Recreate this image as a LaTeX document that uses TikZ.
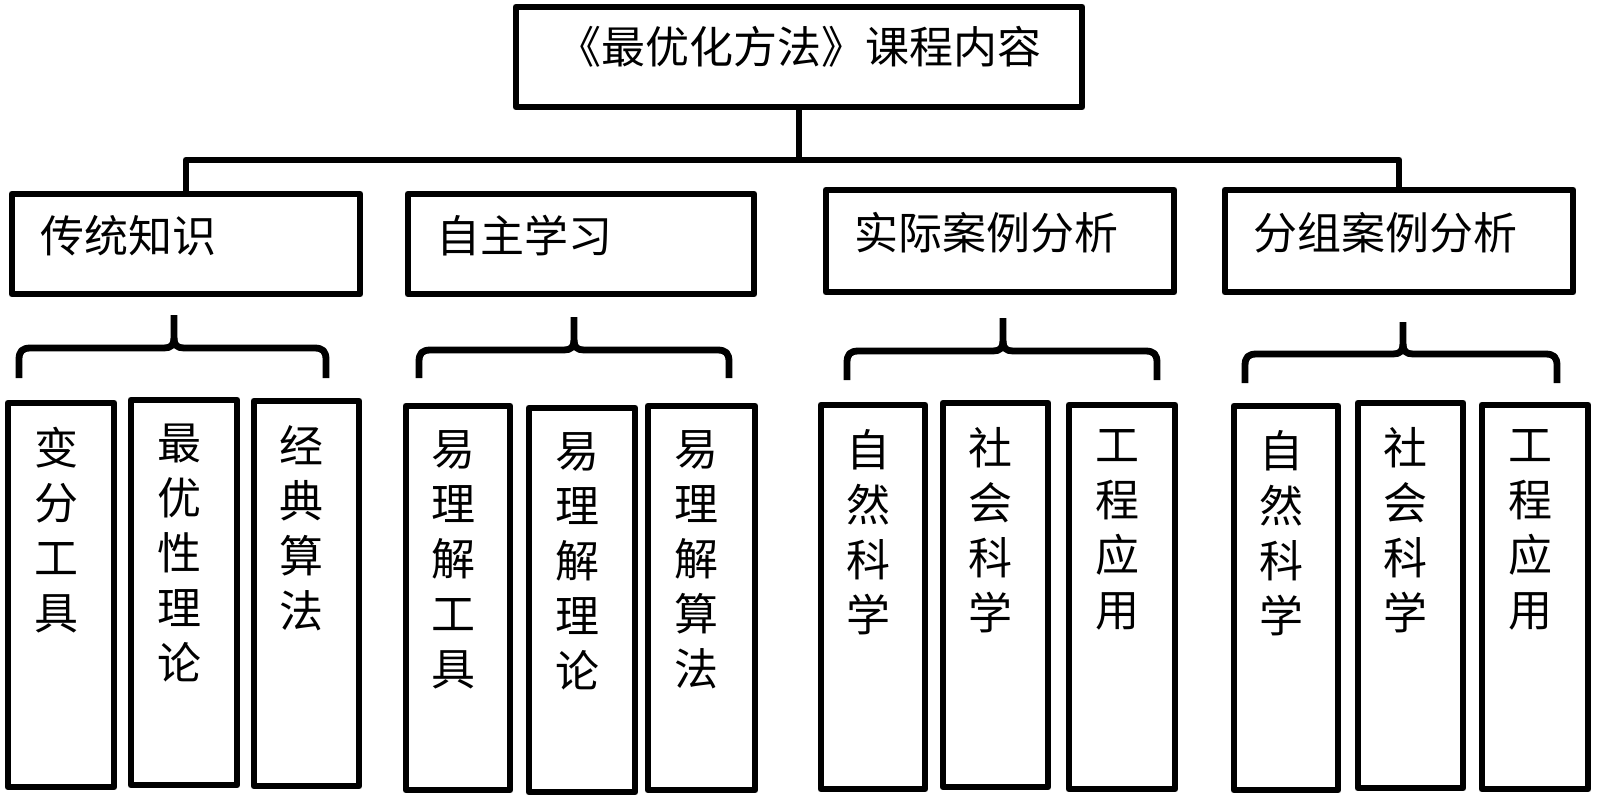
\documentclass[tikz,border=0pt]{standalone}
\usepackage{fontspec}
\newfontfamily\cjk{Noto Sans CJK SC}
\newcommand\mybrace[6]{%
  \draw[brc] (#1,#6) -- (#1,{#5+12}) .. controls (#1,{#5+3}) and ({#1+3},#5) .. ({#1+12},#5)
     -- ({#2-10},#5) .. controls ({#2-3},#5) and (#2,{#5-3}) .. (#2,{#5-10}) -- (#2,#4);
  \draw[brc] (#3,#6) -- (#3,{#5+12}) .. controls (#3,{#5+3}) and ({#3-3},#5) .. ({#3-12},#5)
     -- ({#2+10},#5) .. controls ({#2+3},#5) and (#2,{#5-3}) .. (#2,{#5-10});
}
\begin{document}
\begin{tikzpicture}[x=0.5pt,y=-0.5pt,
  box/.style={draw, line width=3.4pt, line join=round, inner sep=0pt, outer sep=0pt, rectangle},
  conn/.style={line width=3.4pt, line join=round},
  brc/.style={line width=3.4pt, line join=round},
  txt/.style={font=\cjk\fontsize{22pt}{27.5pt}\selectfont, inner sep=0pt},
  vtxt/.style={txt, align=center, anchor=north}]
\useasboundingbox (0,0) rectangle (1600,804);

% top
\node[box, minimum width=283pt, minimum height=50pt] (top) at (799,57) {};
\node[txt] (t0) at ([yshift=5pt]top.center) {《最优化方法》课程内容};

% level 2
\node[box, minimum width=174pt, minimum height=50pt] (b1) at (186,244) {};
\node[box, minimum width=173pt, minimum height=50pt] (b2) at (581,244) {};
\node[box, minimum width=174pt, minimum height=51pt] (b3) at (1000,241) {};
\node[box, minimum width=174pt, minimum height=51pt] (b4) at (1399,241) {};
\node[txt, anchor=west] (t1) at ([xshift=14pt,yshift=4pt]b1.west) {传统知识};
\node[txt, anchor=west] (t2) at ([xshift=14pt,yshift=4pt]b2.west) {自主学习};
\node[txt, anchor=west] (t3) at ([xshift=14pt,yshift=4pt]b3.west) {实际案例分析};
\node[txt, anchor=west] (t4) at ([xshift=14pt,yshift=4pt]b4.west) {分组案例分析};

% connectors
\coordinate (j) at (799,160);
\draw[conn] (top.south) -- (j);
\draw[conn] (b1.north) |- (j) -| (b4.north);

% braces
\mybrace{19}{174}{326}{315}{348}{378}
\mybrace{419}{574}{729}{317}{350}{378}
\mybrace{847}{1003}{1157}{318}{351}{380}
\mybrace{1245}{1403}{1557}{322}{354}{383}

% level 3
\node[box, minimum width=53pt,   minimum height=192pt]   (a) at (61,595) {};
\node[box, minimum width=53pt,   minimum height=192.5pt] (b) at (184,592.5) {};
\node[box, minimum width=52.5pt, minimum height=192.5pt] (c) at (306.5,593.5) {};
\node[box, minimum width=52pt,   minimum height=192pt]   (d) at (458,598) {};
\node[box, minimum width=53pt,   minimum height=192pt]   (e) at (582,600) {};
\node[box, minimum width=53.5pt, minimum height=192pt]   (f) at (701.5,598) {};
\node[box, minimum width=52pt,   minimum height=192pt]   (g) at (873,597) {};
\node[box, minimum width=52.5pt, minimum height=192pt]   (h) at (995.5,595) {};
\node[box, minimum width=53pt,   minimum height=192pt]   (i) at (1122,597) {};
\node[box, minimum width=52pt,   minimum height=192pt]   (jj) at (1286,598) {};
\node[box, minimum width=52.5pt, minimum height=192.5pt] (k) at (1410.5,595.5) {};
\node[box, minimum width=53pt,   minimum height=192pt]   (l) at (1535,597) {};

\node[vtxt] (ta) at ([xshift=-2.5pt,yshift=-12pt]a.north) {变\\分\\工\\具};
\node[vtxt] (tb) at ([xshift=-2.5pt,yshift=-12pt]b.north) {最\\优\\性\\理\\论};
\node[vtxt] (tc) at ([xshift=-2.5pt,yshift=-12pt]c.north) {经\\典\\算\\法};
\node[vtxt] (td) at ([xshift=-2.5pt,yshift=-12pt]d.north) {易\\理\\解\\工\\具};
\node[vtxt] (te) at ([xshift=-2.5pt,yshift=-12pt]e.north) {易\\理\\解\\理\\论};
\node[vtxt] (tf) at ([xshift=-2.5pt,yshift=-12pt]f.north) {易\\理\\解\\算\\法};
\node[vtxt] (tg) at ([xshift=-2.5pt,yshift=-12pt]g.north) {自\\然\\科\\学};
\node[vtxt] (th) at ([xshift=-2.5pt,yshift=-12pt]h.north) {社\\会\\科\\学};
\node[vtxt] (ti) at ([xshift=-2.5pt,yshift=-12pt]i.north) {工\\程\\应\\用};
\node[vtxt] (tj) at ([xshift=-2.5pt,yshift=-12pt]jj.north) {自\\然\\科\\学};
\node[vtxt] (tk) at ([xshift=-2.5pt,yshift=-12pt]k.north) {社\\会\\科\\学};
\node[vtxt] (tl) at ([xshift=-2.5pt,yshift=-12pt]l.north) {工\\程\\应\\用};
\end{tikzpicture}
\end{document}
